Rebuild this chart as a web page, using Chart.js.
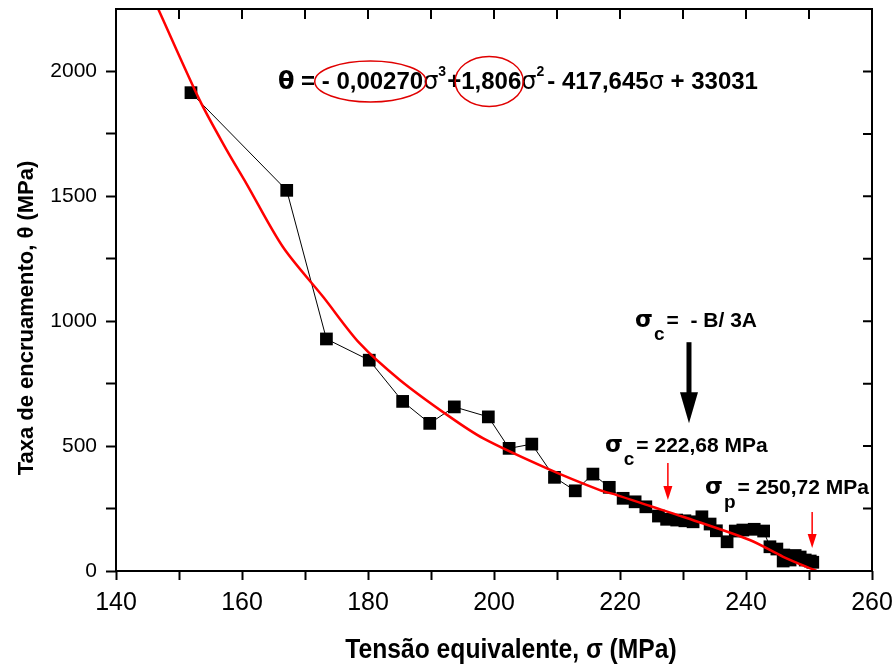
<!DOCTYPE html>
<html>
<head>
<meta charset="utf-8">
<script src="https://cdn.jsdelivr.net/npm/chart.js@4.4.0/dist/chart.umd.min.js"></script>
<style>
  html, body { margin: 0; padding: 0; background: #fff; }
  #wrap { width: 894px; height: 666px; }
</style>
</head>
<body>
<div id="wrap"><canvas id="hardening" width="894" height="666"></canvas></div>
<script>
// measured points: equivalent stress (MPa) vs hardening rate (MPa)
let sigma = [151.9, 167.1, 173.4, 180.2, 185.5, 189.8, 193.7, 199.1, 202.4, 206.0,
             209.6, 212.9, 215.7, 218.3, 220.5, 222.4, 224.1, 226.1, 227.4, 229.0,
             230.3, 231.6, 233.0, 234.3, 235.3, 237.0, 238.3, 239.5, 241.3, 242.8,
             243.8, 244.9, 245.9, 246.0, 247.0, 247.8, 248.6, 249.4, 250.2, 250.6];
let theta = [1915, 1524, 929, 844, 679, 591, 657, 617, 491, 508,
             375, 321, 388, 335, 291, 277, 257, 220, 207, 204,
             201, 197, 217, 188, 161, 117, 160, 164, 167, 160,
             97, 88, 40, 64, 44, 62, 56, 44, 40, 35];

// cubic fit as drawn in red
let fitSigma = [146.7, 153.3, 157.6, 160.7, 166.5, 172.9, 178.7, 185.1, 193.0, 198.3,
                208.4, 216.8, 219.5, 224.8, 230.0, 240.6, 245.9, 251.2];
let fitTheta = [2250, 1884, 1684, 1551, 1297, 1097, 911, 764, 617, 531,
                411, 324, 304, 260, 217, 124, 57, 0];

let xTicks = [140, 150, 160, 170, 180, 190, 200, 210, 220, 230, 240, 250, 260];
let yTicks = [0, 250, 500, 750, 1000, 1250, 1500, 1750, 2000];

// critical stress markers
let sigmaC = 227.6, sigmaP = 250.5, sigmaArrow = 230.95;

const sans = "'Liberation Sans', Arial, sans-serif";
const sym = "'DejaVu Sans', sans-serif";

function pts(xs, ys) { return xs.map((v, i) => ({ x: v, y: ys[i] })); }

// write a run of text pieces left to right, returns their extents
function run(ctx, parts, x, y) {
  let out = [];
  parts.forEach(p => {
    ctx.font = p.font;
    ctx.fillStyle = p.color || "#000";
    ctx.fillText(p.t, x, y - (p.dy || 0));
    let w = ctx.measureText(p.t).width;
    out.push({ x0: x, x1: x + w, p: p });
    x += w + (p.gap || 0);
  });
  return out;
}

function arrow(ctx, x, yTop, yBase, yTip, shaft, head, color) {
  ctx.fillStyle = color; ctx.strokeStyle = color;
  ctx.lineWidth = shaft;
  ctx.beginPath(); ctx.moveTo(x, yTop); ctx.lineTo(x, yBase + 2); ctx.stroke();
  ctx.beginPath();
  ctx.moveTo(x - head / 2, yBase); ctx.lineTo(x + head / 2, yBase); ctx.lineTo(x, yTip);
  ctx.closePath(); ctx.fill();
}

const annotate = {
  id: "annotate",
  afterDatasetsDraw(chart) {
    const { ctx, chartArea: a, scales: { x, y } } = chart;
    ctx.save();
    ctx.textBaseline = "alphabetic";
    ctx.textAlign = "left";

    // frame + inward ticks on top and right
    ctx.strokeStyle = "#000"; ctx.lineWidth = 2;
    ctx.strokeRect(a.left, a.top, a.right - a.left, a.bottom - a.top);
    ctx.beginPath();
    xTicks.forEach(v => { let px = x.getPixelForValue(v); ctx.moveTo(px, a.top); ctx.lineTo(px, a.top + 10); });
    yTicks.forEach(v => { let py = y.getPixelForValue(v); ctx.moveTo(a.right, py); ctx.lineTo(a.right - 9, py); });
    ctx.stroke();

    // fitted equation
    const b24 = "bold 24px " + sans, s24 = "24px " + sym, sup = "bold 14px " + sans;
    let base = y.getPixelForValue(1928);
    let eq = run(ctx, [
      { t: "θ", font: "bold 24px " + sym }, { t: " = ", font: b24 },
      { t: "- 0,00270", font: b24, ring: [5, 20.5] }, { t: "σ", font: s24 },
      { t: "3", font: sup, dy: 13, gap: 1 }, { t: "+", font: b24 },
      { t: "1,806", font: b24, ring: [4, 25] }, { t: "σ", font: s24 },
      { t: "2", font: sup, dy: 13, gap: 3 }, { t: "- 417,645", font: b24 },
      { t: "σ", font: s24 }, { t: " + 33031", font: b24 }
    ], x.getPixelForValue(165.7), base);
    ctx.strokeStyle = "#e00000"; ctx.lineWidth = 1.5;
    eq.filter(e => e.p.ring).forEach(e => {
      ctx.beginPath();
      ctx.ellipse((e.x0 + e.x1) / 2 - 2, base - 8, (e.x1 - e.x0) / 2 + e.p.ring[0], e.p.ring[1], 0, 0, Math.PI * 2);
      ctx.stroke();
    });

    // labels
    const b21 = "bold 21px " + sans, sg = "bold 23px " + sym, sub = "bold 19px " + sans;
    run(ctx, [{ t: "σ", font: sg, gap: 1 }, { t: "c", font: sub, dy: -13, gap: 2 }, { t: "=  - B/ 3A", font: b21 }],
      x.getPixelForValue(222.4), y.getPixelForValue(976));
    run(ctx, [{ t: "σ", font: sg, gap: 1 }, { t: "c", font: sub, dy: -13, gap: 2 }, { t: "= 222,68 MPa", font: b21 }],
      x.getPixelForValue(217.6), y.getPixelForValue(476));
    run(ctx, [{ t: "σ", font: sg, gap: 1 }, { t: "p", font: sub, dy: -14, gap: 2 }, { t: "= 250,72 MPa", font: b21 }],
      x.getPixelForValue(233.5), y.getPixelForValue(308));

    // arrows
    arrow(ctx, x.getPixelForValue(sigmaArrow), y.getPixelForValue(916), y.getPixelForValue(716),
      y.getPixelForValue(592), 5, 18, "#000");
    arrow(ctx, x.getPixelForValue(sigmaC), y.getPixelForValue(432), y.getPixelForValue(340),
      y.getPixelForValue(284), 1.5, 9, "#ff0000");
    arrow(ctx, x.getPixelForValue(sigmaP), y.getPixelForValue(236), y.getPixelForValue(148),
      y.getPixelForValue(92), 1.5, 9, "#ff0000");

    // axis titles
    ctx.fillStyle = "#000";
    ctx.textAlign = "center"; ctx.textBaseline = "middle";
    ctx.save();
    ctx.translate(511, 650); ctx.scale(0.88, 1);
    ctx.font = "bold 28px " + sans;
    ctx.fillText("Tensão equivalente, σ (MPa)", 0, 0);
    ctx.restore();
    ctx.translate(27, 318); ctx.rotate(-Math.PI / 2);
    ctx.font = "bold 22px " + sans;
    ctx.fillText("Taxa de encruamento, θ (MPa)", 0, 0);
    ctx.restore();
  }
};

function noPad(s) { s.paddingTop = 0; s.paddingBottom = 0; s.paddingLeft = 0; s.paddingRight = 0; }

let ctx = document.getElementById("hardening").getContext("2d");

let chart = new Chart(ctx, {
  type: "scatter",
  data: {
    datasets: [{
      label: "ajuste",
      data: pts(fitSigma, fitTheta),
      showLine: true,
      borderColor: "#ff0000",
      borderWidth: 2.5,
      pointRadius: 0,
      tension: 0.3
    }, {
      label: "theta",
      data: pts(sigma, theta),
      showLine: true,
      borderColor: "#000",
      borderWidth: 1,
      pointStyle: "rect",
      pointRadius: 9,
      pointBackgroundColor: "#000",
      pointBorderWidth: 0
    }]
  },
  options: {
    responsive: false,
    animation: false,
    devicePixelRatio: 1,
    layout: { padding: { top: 9, right: 22, left: 0, bottom: 0 } },
    plugins: { legend: { display: false }, tooltip: { enabled: false } },
    scales: {
      x: {
        type: "linear", min: 140, max: 260,
        afterBuildTicks: s => { s.ticks = xTicks.map(v => ({ value: v })); },
        afterFit: s => { s.height = 95; noPad(s); },
        border: { display: false },
        grid: { drawOnChartArea: false, tickLength: 9, tickWidth: 2, tickColor: "#000" },
        ticks: {
          autoSkip: false, maxRotation: 0, padding: 8, color: "#000",
          font: { family: sans, size: 25 },
          callback: v => (v % 20 === 0 ? v : "")
        }
      },
      y: {
        type: "linear", min: 0, max: 2250,
        afterBuildTicks: s => { s.ticks = yTicks.map(v => ({ value: v })); },
        afterFit: s => { s.width = 116; noPad(s); },
        border: { display: false },
        grid: { drawOnChartArea: false, tickLength: 10, tickWidth: 2, tickColor: "#000" },
        ticks: {
          autoSkip: false, padding: 9, color: "#000",
          font: { family: sans, size: 21 },
          callback: v => (v % 500 === 0 ? v : "")
        }
      }
    }
  },
  plugins: [annotate]
});
</script>
</body>
</html>
